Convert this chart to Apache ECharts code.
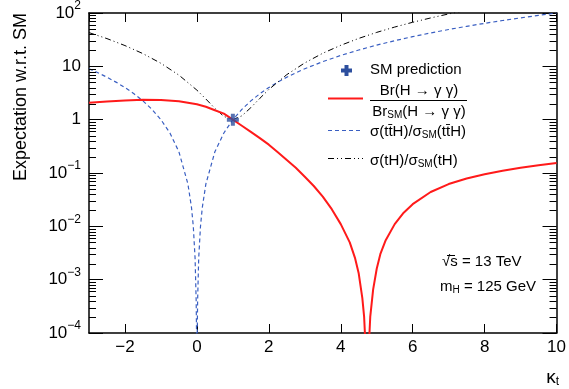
<!DOCTYPE html>
<html>
<head>
<meta charset="utf-8">
<script src="https://cdn.jsdelivr.net/npm/echarts@6/dist/echarts.min.js"></script>
<style>
  html, body { margin: 0; padding: 0; background: #fff; }
  #chart { width: 569px; height: 389px; }
</style>
</head>
<body>
<div id="chart"></div>
<script>
// kappa_t scan: expected yields relative to the Standard Model
const kappaTTH = [-3, -2.75, -2.5, -2.25, -2, -1.75, -1.5, -1.25, -1, -0.75, -0.5, -0.25, -0.15, -0.1, -0.05, -0.02, -0.01, 0,
  0.01, 0.02, 0.05, 0.1, 0.15, 0.25, 0.5, 0.75, 1, 1.25, 1.5, 1.75, 2, 2.25, 2.5, 2.75, 3, 3.5, 4, 4.5, 5, 5.5, 6, 6.5, 7, 7.5, 8, 8.5, 9, 9.5, 10];
const ttHRatio = [9, 7.56, 6.25, 5.06, 4, 3.06, 2.25, 1.56, 1, 0.563, 0.25, 0.0625, 0.0225, 0.01, 0.0025, 0.0004, 0.0001, 1e-8,
  0.0001, 0.0004, 0.0025, 0.01, 0.0225, 0.0625, 0.25, 0.563, 1, 1.56, 2.25, 3.06, 4, 5.06, 6.25, 7.56, 9, 12.25, 16, 20.25, 25, 30.25, 36, 42.25, 49, 56.25, 64, 72.25, 81, 90.25, 100];

const kappaTH = [-3, -2.5, -2, -1.5, -1, -0.5, 0, 0.25, 0.5, 0.75, 1, 1.25, 1.5, 1.75, 2, 2.5, 3, 3.5, 4, 4.5, 5, 5.5, 6, 6.5, 7, 7.5];
const tHRatio = [42.9, 33.1, 24.5, 17.3, 11.4, 6.84, 3.58, 2.44, 1.63, 1.15, 1.0, 1.18, 1.68, 2.51, 3.68, 6.99, 11.6, 17.6, 24.8, 33.4, 43.3, 54.5, 67.0, 80.8, 96.0, 112.4];

const kappaBr = [-3, -2.5, -2, -1.5, -1, -0.5, 0, 0.25, 0.5, 0.75, 1, 1.25, 1.5, 1.75, 2, 2.25, 2.5, 2.75, 3, 3.25, 3.5, 3.75, 4, 4.25, 4.4, 4.5, 4.6, 4.65, 4.7, 4.735,
  4.77, 4.82, 4.9, 5, 5.1, 5.25, 5.5, 5.75, 6, 6.5, 7, 7.5, 8, 8.5, 9, 9.5, 10];
const brRatio = [2.08, 2.2, 2.29, 2.36, 2.34, 2.22, 1.95, 1.75, 1.5, 1.3, 1.0, 0.77, 0.59, 0.45, 0.34, 0.245, 0.175, 0.125, 0.085, 0.057, 0.036, 0.021, 0.011, 0.005, 0.0025, 0.0013, 0.00045, 0.0002, 0.00004, 1e-7,
  0.00004, 0.0002, 0.00065, 0.0016, 0.003, 0.0055, 0.011, 0.018, 0.026, 0.044, 0.062, 0.079, 0.095, 0.11, 0.125, 0.14, 0.154];

const smPoint = [1, 1];

// minor tick positions on the logarithmic axis (2..9 x 10^k)
const minorTickValues = [];
for (let e = -4; e < 2; e++) {
  for (let m = 2; m <= 9; m++) minorTickValues.push(m * Math.pow(10, e));
}

const FONT = "'Liberation Sans', Arial, Helvetica, sans-serif";
const X_MIN = -3, X_MAX = 10;
const Y_MIN = 1e-4, Y_MAX = 100;

const zip = (xs, ys) => xs.map((x, i) => [x, ys[i]]);
const minus = s => String(s).replace('-', '\u2212');

function logLabel(v) {
  const e = Math.round(Math.log10(v));
  if (e === 0) return '{n|1}';
  if (e === 1) return '{n|10}';
  return '{n|10}{s|' + minus(e) + '}';
}

const chart = echarts.init(document.getElementById('chart'), null, { renderer: 'canvas' });

const axisLine = { show: true, onZero: false, lineStyle: { color: '#000', width: 1.5 } };

const option = {
  backgroundColor: '#fff',
  animation: false,
  textStyle: { fontFamily: FONT },
  grid: { left: 89, right: 10, top: 13, bottom: 56, containLabel: false },
  xAxis: [
    {
      type: 'value', min: X_MIN, max: X_MAX, splitNumber: 6, position: 'bottom',
      axisLine: axisLine,
      axisTick: { inside: true, length: 9, lineStyle: { color: '#000', width: 1 } },
      axisLabel: { show: true, showMinLabel: false, color: '#000', fontSize: 17, fontFamily: FONT, margin: 6,
        formatter: v => minus(v) },
      splitLine: { show: false }
    },
    {
      type: 'value', min: X_MIN, max: X_MAX, splitNumber: 6, position: 'top',
      axisLine: axisLine,
      axisTick: { inside: true, length: 9, lineStyle: { color: '#000', width: 1 } },
      axisLabel: { show: false },
      splitLine: { show: false }
    }
  ],
  yAxis: [
    {
      type: 'log', logBase: 10, min: Y_MIN, max: Y_MAX, position: 'left',
      axisLine: axisLine,
      axisTick: { inside: true, length: 14, lineStyle: { color: '#000', width: 1 } },
      axisLabel: {
        color: '#000', margin: 8, formatter: logLabel,
        rich: {
          n: { fontSize: 17, fontFamily: FONT, color: '#000', lineHeight: 20 },
          s: { fontSize: 12, fontFamily: FONT, color: '#000', lineHeight: 12, padding: [0, 0, 11, 0], verticalAlign: 'bottom' }
        }
      },
      splitLine: { show: false }
    },
    {
      type: 'log', logBase: 10, min: Y_MIN, max: Y_MAX, position: 'right',
      axisLine: axisLine,
      axisTick: { inside: true, length: 14, lineStyle: { color: '#000', width: 1 } },
      axisLabel: { show: false },
      splitLine: { show: false }
    }
  ],
  series: [
    {
      name: 'minor ticks', type: 'custom', xAxisIndex: 0, yAxisIndex: 0, silent: true, z: 5,
      data: minorTickValues.map(v => [X_MIN, v]),
      renderItem: (params, api) => {
        const v = api.value(1);
        const l = api.coord([X_MIN, v]);
        const r = api.coord([X_MAX, v]);
        const y = Math.round(l[1]) + 0.5;
        return {
          type: 'group',
          children: [
            { type: 'line', shape: { x1: l[0], y1: y, x2: l[0] + 7, y2: y }, style: { stroke: '#000', lineWidth: 1 } },
            { type: 'line', shape: { x1: r[0] - 7, y1: y, x2: r[0], y2: y }, style: { stroke: '#000', lineWidth: 1 } }
          ]
        };
      }
    },
    {
      name: 'ttH', type: 'line', data: zip(kappaTTH, ttHRatio), showSymbol: false, clip: true, z: 2,
      lineStyle: { color: '#3a5fc2', width: 1.2, type: [4, 3] }
    },
    {
      name: 'tH', type: 'line', data: zip(kappaTH, tHRatio), showSymbol: false, clip: true, z: 2,
      lineStyle: { color: '#000', width: 1, type: [6, 3, 1, 3, 1, 3] }
    },
    {
      name: 'Br', type: 'line', data: zip(kappaBr, brRatio), showSymbol: false, clip: true, z: 3,
      lineStyle: { color: '#ff1a1a', width: 2 }
    },
    {
      name: 'SM prediction', type: 'scatter', data: [smPoint], z: 4,
      symbol: 'path://M4,0H8V4H12V8H8V12H4V8H0V4H4Z', symbolSize: 12,
      itemStyle: { color: '#2d4f9e' }
    }
  ],
  graphic: [
    // axis titles
    { type: 'text', x: 21, y: 13, rotation: Math.PI / 2,
      style: { text: 'Expectation w.r.t. SM', fontSize: 18, fontFamily: FONT, fill: '#000', align: 'right', verticalAlign: 'middle' } },
    { type: 'text', x: 559, y: 378,
      style: { text: '{k|\u03ba}{t|t}', align: 'right', verticalAlign: 'middle',
        rich: { k: { fontSize: 19, fontFamily: FONT, fill: '#000', lineHeight: 20 },
                t: { fontSize: 12, fontFamily: FONT, fill: '#000', lineHeight: 12, padding: [8, 0, 0, 0], verticalAlign: 'top' } } } },

    // legend: SM prediction
    { type: 'rect', shape: { x: 341, y: 68.5, width: 11, height: 4 }, style: { fill: '#2d4f9e' } },
    { type: 'rect', shape: { x: 344.5, y: 65, width: 4, height: 11 }, style: { fill: '#2d4f9e' } },
    { type: 'text', x: 370, y: 70, style: { text: 'SM prediction', fontSize: 15, fontFamily: FONT, fill: '#000', verticalAlign: 'middle' } },

    // legend: branching ratio
    { type: 'line', shape: { x1: 328, y1: 98.5, x2: 363, y2: 98.5 }, style: { stroke: '#ff1a1a', lineWidth: 2 } },
    { type: 'text', x: 419, y: 91, style: { text: 'Br(H \u2192 \u03b3 \u03b3)', fontSize: 15, fontFamily: FONT, fill: '#000', align: 'center', verticalAlign: 'middle' } },
    { type: 'line', shape: { x1: 370, y1: 100.5, x2: 467, y2: 100.5 }, style: { stroke: '#000', lineWidth: 1 } },
    { type: 'text', x: 419, y: 112,
      style: { text: '{n|Br}{s|SM}{n|(H \u2192 \u03b3 \u03b3)}', align: 'center', verticalAlign: 'middle',
        rich: { n: { fontSize: 15, fontFamily: FONT, fill: '#000', lineHeight: 17 },
                s: { fontSize: 10, fontFamily: FONT, fill: '#000', lineHeight: 10, padding: [7, 0, 0, 0], verticalAlign: 'top' } } } },

    // legend: ttH
    { type: 'line', shape: { x1: 328, y1: 130.5, x2: 363, y2: 130.5 }, style: { stroke: '#3a5fc2', lineWidth: 1.2, lineDash: [4, 3] } },
    { type: 'text', x: 370, y: 132,
      style: { text: '{n|\u03c3(tt\u0304H)/\u03c3}{s|SM}{n|(tt\u0304H)}', verticalAlign: 'middle',
        rich: { n: { fontSize: 15, fontFamily: FONT, fill: '#000', lineHeight: 17 },
                s: { fontSize: 10, fontFamily: FONT, fill: '#000', lineHeight: 10, padding: [7, 0, 0, 0], verticalAlign: 'top' } } } },

    // legend: tH
    { type: 'line', shape: { x1: 328, y1: 158.5, x2: 363, y2: 158.5 }, style: { stroke: '#000', lineWidth: 1, lineDash: [6, 3, 1, 3, 1, 3] } },
    { type: 'text', x: 370, y: 161,
      style: { text: '{n|\u03c3(tH)/\u03c3}{s|SM}{n|(tH)}', verticalAlign: 'middle',
        rich: { n: { fontSize: 15, fontFamily: FONT, fill: '#000', lineHeight: 17 },
                s: { fontSize: 10, fontFamily: FONT, fill: '#000', lineHeight: 10, padding: [7, 0, 0, 0], verticalAlign: 'top' } } } },

    // energy and mass annotations
    { type: 'text', x: 442, y: 262, style: { text: '\u221as = 13 TeV', fontSize: 15, fontFamily: FONT, fill: '#000', verticalAlign: 'middle' } },
    { type: 'line', shape: { x1: 447, y1: 255.5, x2: 455, y2: 255.5 }, style: { stroke: '#000', lineWidth: 1 } },
    { type: 'text', x: 440, y: 287,
      style: { text: '{n|m}{s|H}{n| = 125 GeV}', verticalAlign: 'middle',
        rich: { n: { fontSize: 15, fontFamily: FONT, fill: '#000', lineHeight: 17 },
                s: { fontSize: 10, fontFamily: FONT, fill: '#000', lineHeight: 10, padding: [7, 0, 0, 0], verticalAlign: 'top' } } } }
  ]
};

chart.setOption(option);
</script>
</body>
</html>
